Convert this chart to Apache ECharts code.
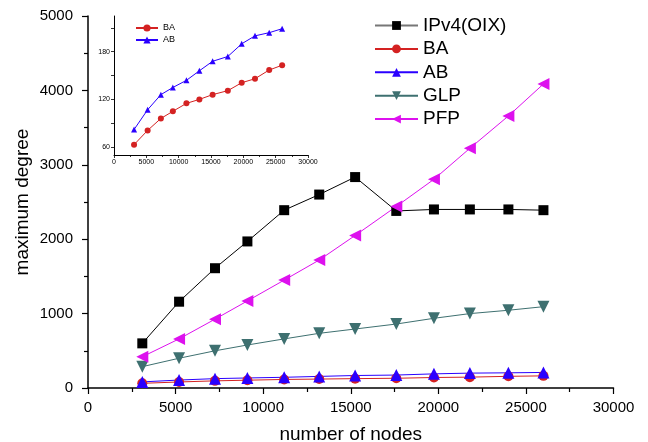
<!DOCTYPE html>
<html>
<head>
<meta charset="utf-8">
<script src="https://cdn.jsdelivr.net/npm/echarts@6/dist/echarts.min.js"></script>
<style>
    html, body { margin: 0; padding: 0; background: #fff; }
    #chart { width: 648px; height: 442px; }
</style>
</head>
<body>
<div id="chart"></div>
<script>
    // number of nodes (shared by every series)
    var nodes = [3100, 5200, 7250, 9100, 11200, 13200, 15250, 17600, 19750, 21800, 24000, 26000];
    // maximum degree per model
    var ipv4 = [600, 1160, 1610, 1970, 2390, 2600, 2835, 2380, 2400, 2400, 2400, 2390];
    var ba = [63, 81, 96, 105, 115, 120, 126, 131, 141, 146, 157, 163];
    var ab = [82, 107, 126, 135, 144, 156, 168, 174, 190, 200, 204, 209];
    var glp = [287, 400, 500, 578, 660, 735, 793, 860, 937, 1000, 1045, 1093];
    var pfp = [420, 660, 925, 1170, 1450, 1720, 2050, 2440, 2805, 3222, 3656, 4086];
    // inset tick values
    var insetYLabels = [60, 120, 180];
    var insetYTicks = [60, 90, 120, 150, 180, 210];

    var font = 'Liberation Sans';

    function pairs(ys) {
        return nodes.map(function (x, i) { return [x, ys[i]]; });
    }

    function plain(v) {
        return String(v);
    }

    function lineSeries(name, ys, color, symbol, size, rotate, axisIdx) {
        return {
            name: name,
            type: 'line',
            xAxisIndex: axisIdx,
            yAxisIndex: axisIdx,
            data: pairs(ys),
            symbol: symbol,
            symbolSize: size,
            symbolRotate: rotate,
            showAllSymbol: true,
            itemStyle: { color: color, opacity: 1 },
            lineStyle: { color: color, width: 1 },
            z: 3
        };
    }

    var option = {
        animation: false,
        backgroundColor: '#fff',
        textStyle: { fontFamily: font },
        grid: [
            { left: 88, top: 16, right: 34.5, bottom: 54, outerBoundsMode: 'none', containLabel: false },
            { left: 114, top: 16, width: 194, height: 139, outerBoundsMode: 'none', containLabel: false }
        ],
        legend: [{
            orient: 'vertical',
            left: 369,
            top: 11,
            itemWidth: 43,
            itemHeight: 11,
            itemGap: 4.4,
            textStyle: { fontSize: 19, color: '#000', fontFamily: font, lineHeight: 19 },
            data: [
                { name: 'IPv4(OIX)', lineStyle: { color: '#777' } },
                'BA', 'AB', 'GLP', 'PFP'
            ]
        }, {
            orient: 'vertical',
            left: 130,
            top: 18.5,
            itemWidth: 22,
            itemHeight: 9,
            itemGap: 3,
            textStyle: { fontSize: 9, color: '#000', fontFamily: font, lineHeight: 9 },
            data: ['BA', 'AB']
        }],
        xAxis: [{
            gridIndex: 0,
            type: 'value',
            min: 0,
            max: 30000,
            interval: 5000,
            name: 'number of nodes',
            nameLocation: 'middle',
            nameGap: 37,
            nameMoveOverlap: false,
            nameTextStyle: { fontSize: 19, color: '#000', fontFamily: font },
            axisLine: { lineStyle: { color: '#000', width: 1.5 } },
            axisTick: { inside: false, length: 6, lineStyle: { color: '#000', width: 1.2 } },
            minorTick: { show: true, splitNumber: 2, length: 4, lineStyle: { color: '#000', width: 1.2 } },
            axisLabel: { fontSize: 15, color: '#000', margin: 12, fontFamily: font, formatter: plain },
            splitLine: { show: false }
        }, {
            gridIndex: 1,
            type: 'value',
            min: 0,
            max: 30000,
            interval: 5000,
            axisLine: { lineStyle: { color: '#000', width: 1 } },
            axisTick: { inside: false, length: 3, lineStyle: { color: '#000', width: 0.8 } },
            minorTick: { show: true, splitNumber: 2, length: 2, lineStyle: { color: '#000', width: 0.8 } },
            axisLabel: { fontSize: 7, color: '#000', margin: 4, fontFamily: font, formatter: plain },
            splitLine: { show: false }
        }],
        yAxis: [{
            gridIndex: 0,
            type: 'value',
            min: 0,
            max: 5000,
            interval: 1000,
            name: 'maximum degree',
            nameLocation: 'middle',
            nameGap: 56,
            nameMoveOverlap: false,
            nameTextStyle: { fontSize: 19, color: '#000', fontFamily: font },
            axisLine: { show: true, lineStyle: { color: '#000', width: 1.5 } },
            axisTick: { show: true, inside: false, length: 6, lineStyle: { color: '#000', width: 1.2 } },
            minorTick: { show: true, splitNumber: 2, length: 4, lineStyle: { color: '#000', width: 1.2 } },
            axisLabel: { fontSize: 15, color: '#000', margin: 15, fontFamily: font, formatter: plain },
            splitLine: { show: false }
        }, {
            gridIndex: 1,
            type: 'value',
            min: 50,
            max: 225,
            axisLine: { show: true, lineStyle: { color: '#000', width: 1 } },
            axisTick: { show: true, inside: false, length: 3, customValues: insetYTicks, lineStyle: { color: '#000', width: 0.8 } },
            axisLabel: { fontSize: 7, color: '#000', margin: 4, customValues: insetYLabels, fontFamily: font, formatter: plain },
            splitLine: { show: false }
        }],
        series: [
            lineSeries('IPv4(OIX)', ipv4, '#000000', 'rect', 10, 0, 0),
            lineSeries('BA', ba, '#d42222', 'circle', 10, 0, 0),
            lineSeries('AB', ab, '#2a00ff', 'triangle', 12, 0, 0),
            lineSeries('GLP', glp, '#3e7070', 'triangle', 12, 180, 0),
            lineSeries('PFP', pfp, '#dd11ee', 'triangle', 12, 90, 0),
            lineSeries('BA', ba, '#d42222', 'circle', 6, 0, 1),
            lineSeries('AB', ab, '#2a00ff', 'triangle', 6, 0, 1)
        ]
    };

    echarts.init(document.getElementById('chart')).setOption(option);
</script>
</body>
</html>
